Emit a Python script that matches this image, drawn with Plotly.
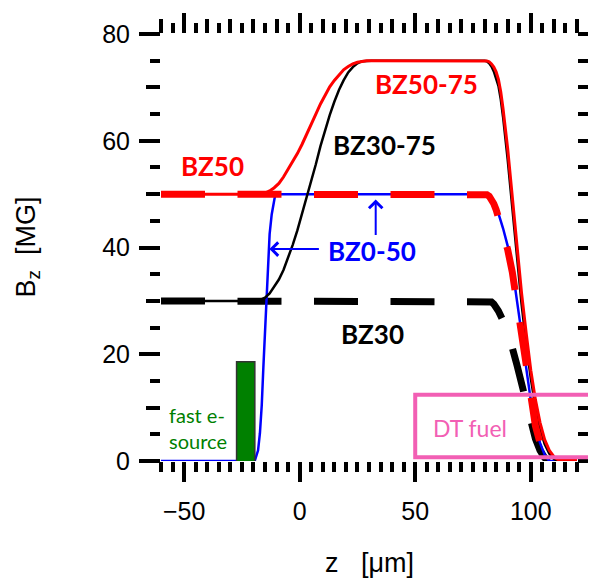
import plotly.graph_objects as go

# ---------------- data ----------------
# BZ50 (red, thick dashed)
z_bz50 = [-60, 80, 81, 82, 83, 84, 85, 86, 88, 90, 92, 94, 96, 98, 100, 102, 104, 106, 108, 110, 120]
b_bz50 = [50, 50, 49.9, 49.6, 49.0, 48.2, 47.1, 45.8, 43.0, 39.6, 35.4, 29.8, 23.6, 17.2, 11.2, 6.6, 3.4, 1.5, 0.5, 0, 0]

# BZ30 (black, thick dashed)
z_bz30 = [-60, 82, 83, 84, 85, 86, 88, 90, 92, 94, 96, 98, 100, 102, 104, 106, 108, 120]
b_bz30 = [30, 30, 29.8, 29.4, 28.8, 28.1, 26.3, 24.0, 21.2, 18.0, 14.5, 11.0, 7.2, 4.2, 2.0, 0.6, 0, 0]

# BZ0-50 (blue, thin)
z_bz0_50 = [-60, -20, -19.3, -18, -17.2, -16.4, -15.7, -15, -14.3, -13.6, -13, -12.1, -11.4, -10.7, -9,
            82, 84, 86, 88, 90, 92, 94, 96, 98, 100, 102, 104, 106, 108, 120]
b_bz0_50 = [0, 0, 0.2, 2.0, 5.2, 10.5, 17.6, 24, 30, 38.5, 42.5, 46.2, 48.3, 49.6, 50,
            50, 48.6, 46.4, 43.6, 40.3, 36.2, 30.3, 24.0, 17.5, 11.4, 6.8, 3.4, 1.2, 0, 0]

# BZ30-75 (black, thin)
z_bz30_75 = [-60, -19, -17, -15, -13, -11, -9, -7, -5, -3, -1, 1, 3, 5, 7, 9, 11, 13, 15, 17, 19, 21, 23, 25, 27, 29, 31,
             80, 81, 82, 83, 84, 85, 86, 87, 88, 90, 92, 94, 96, 98, 100, 102, 104, 106, 108, 110, 112, 120]
b_bz30_75 = [30, 30, 30.2, 30.6, 31.4, 32.6, 34.0, 35.8, 38.0, 40.5, 43.2, 46.2, 49.2, 52.4, 55.6, 59.0, 62.0, 64.8, 67.3, 69.5, 71.3, 72.8, 73.8, 74.5, 74.9, 75, 75,
             75, 74.9, 74.5, 73.9, 73, 71.8, 70.3, 67.8, 64.5, 56.5, 47, 37.5, 29.5, 22, 15.5, 10.2, 6, 3.2, 1.4, 0.4, 0, 0]

# BZ50-75 (red, thin)
z_bz50_75 = [-60, -17, -15, -13, -11, -9, -7, -5, -3, -1, 1, 3, 5, 7, 9, 11, 13, 15, 17, 19, 21, 23, 25, 27, 29, 31,
             80, 81, 82, 83, 84, 85, 86, 87, 88, 90, 92, 94, 96, 98, 100, 102, 104, 106, 108, 110, 112, 114, 120]
b_bz50_75 = [50, 50, 50.2, 50.6, 51.2, 52.0, 53.2, 54.6, 56.0, 57.6, 59.3, 61.1, 63.0, 65.0, 66.9, 68.6, 70.1, 71.3, 72.4, 73.3, 73.9, 74.4, 74.7, 74.9, 75, 75,
             75, 74.95, 74.8, 74.4, 73.8, 72.9, 71.5, 69.2, 66, 58.5, 49.5, 40, 31.5, 24, 17, 11.5, 7.2, 4, 2, 0.8, 0.2, 0, 0]

# fast electron source bar: z extent and height
source_z = [-27.3, -19.4]
source_b = [-0.3, 18.6]

# DT fuel box: z start and B extent
dt_z0 = 50
dt_b = [0.7, 12.4]

x_range = [-60, 120]
y_range = [0, 80]
x_ticks = [-50, 0, 50, 100]
y_ticks = [0, 20, 40, 60, 80]

# ---------------- figure ----------------
fig = go.Figure()
DASH = "44px,32.5px"

fig.add_trace(go.Scatter(x=z_bz30, y=b_bz30, mode="lines",
                         line=dict(color="black", width=7, dash=DASH)))
fig.add_trace(go.Scatter(x=z_bz0_50, y=b_bz0_50, mode="lines",
                         line=dict(color="#0000ff", width=2.5)))
fig.add_trace(go.Scatter(x=z_bz30_75, y=b_bz30_75, mode="lines",
                         line=dict(color="black", width=2.5)))
fig.add_trace(go.Scatter(x=z_bz50_75, y=b_bz50_75, mode="lines",
                         line=dict(color="#ff0000", width=3)))
fig.add_trace(go.Scatter(x=z_bz50, y=b_bz50, mode="lines",
                         line=dict(color="#ff0000", width=7, dash=DASH)))
# source bar
fig.add_trace(go.Scatter(
    x=[source_z[0], source_z[1], source_z[1], source_z[0], source_z[0]],
    y=[source_b[0], source_b[0], source_b[1], source_b[1], source_b[0]],
    mode="lines", fill="toself", fillcolor="#008000",
    line=dict(color="#333333", width=1.5)))
# dummy trace to materialise the overlay axes (medium ticks)
fig.add_trace(go.Scatter(x=[None], y=[None], xaxis="x2", yaxis="y2",
                         mode="lines", hoverinfo="skip"))

PINK = "#f25fb4"
xr = x_range[1] - x_range[0]
fig.add_shape(type="rect", xref="paper", yref="y",
              x0=(dt_z0 - x_range[0]) / xr, x1=1.06,
              y0=dt_b[0], y1=dt_b[1],
              line=dict(color=PINK, width=4), fillcolor="rgba(0,0,0,0)")

LBL = "Lato, 'Open Sans', sans-serif"
def lab(text, x, y, color, size=26, bold=True, **kw):
    fig.add_annotation(x=x, y=y, text=(f"<b>{text}</b>" if bold else text),
                       showarrow=False, font=dict(family=LBL, size=size, color=color), **kw)

lab("BZ50", -37.7, 55.2, "#ff0000")
lab("BZ50-75", 55.0, 70.7, "#ff0000")
lab("BZ30-75", 36.9, 59.2, "black")
lab("BZ0-50", 31.5, 39.3, "#0000ff")
lab("BZ30", 31.5, 23.8, "black")
lab("fast e-<br>source", -57.5, 6.1, "#008000", size=20, bold=False, xanchor="left", align="left")
lab("DT fuel", 73.9, 6.2, PINK, size=23, bold=False)

# arrows
for (x, y, ax, ay) in [(-13.1, 39.7, 51, 0), (32.9, 49.0, 0, 37)]:
    fig.add_annotation(x=x, y=y, ax=ax, ay=ay, text="", showarrow=True,
                       arrowhead=4, arrowsize=1.3, arrowwidth=2, arrowcolor="#0000ff")

# axis titles
TF = "'Liberation Sans', Arial, sans-serif"
fig.add_annotation(xref="paper", yref="paper", x=-0.322, y=0.5, textangle=-90,
                   xanchor="center", yanchor="middle",
                   text="B<sub>z</sub>&nbsp;&nbsp;[MG]", showarrow=False,
                   font=dict(family=TF, size=27, color="black"))
fig.add_annotation(xref="paper", yref="paper", x=0.5, y=-0.238,
                   xanchor="center", yanchor="middle",
                   text="z&nbsp;&nbsp;&nbsp;[μm]", showarrow=False,
                   font=dict(family=TF, size=27, color="black"))

tickfont = dict(family=TF, size=25, color="black")
fig.update_layout(
    width=588, height=572,
    margin=dict(l=153, r=19, t=24, b=119),
    paper_bgcolor="white", plot_bgcolor="white",
    showlegend=False,
    xaxis=dict(range=x_range, tickvals=x_ticks, ticks="outside", ticklen=20, tickwidth=4,
               tickcolor="black", mirror="ticks", showline=False, showgrid=False, zeroline=False,
               tickfont=tickfont, ticklabelstandoff=8,
               minor=dict(dtick=5, tick0=0, ticks="outside", ticklen=10, tickwidth=4,
                          tickcolor="black", showgrid=False)),
    yaxis=dict(range=y_range, tickvals=y_ticks, ticks="outside", ticklen=21, tickwidth=4,
               tickcolor="black", mirror="ticks", showline=False, showgrid=False, zeroline=False,
               tickfont=tickfont, ticklabelstandoff=4,
               minor=dict(dtick=5, tick0=0, ticks="outside", ticklen=10, tickwidth=4,
                          tickcolor="black", showgrid=False)),
    xaxis2=dict(range=x_range, overlaying="x", side="top", anchor="y2", dtick=10, tick0=0,
                ticks="outside", ticklen=14, tickwidth=4, tickcolor="black",
                showticklabels=False, showgrid=False, zeroline=False, showline=False),
    yaxis2=dict(range=y_range, overlaying="y", side="left", anchor="x2", dtick=10, tick0=0,
                ticks="outside", ticklen=14, tickwidth=4, tickcolor="black", mirror="ticks",
                showticklabels=False, showgrid=False, zeroline=False, showline=False),
)

fig.write_html("out.html")
